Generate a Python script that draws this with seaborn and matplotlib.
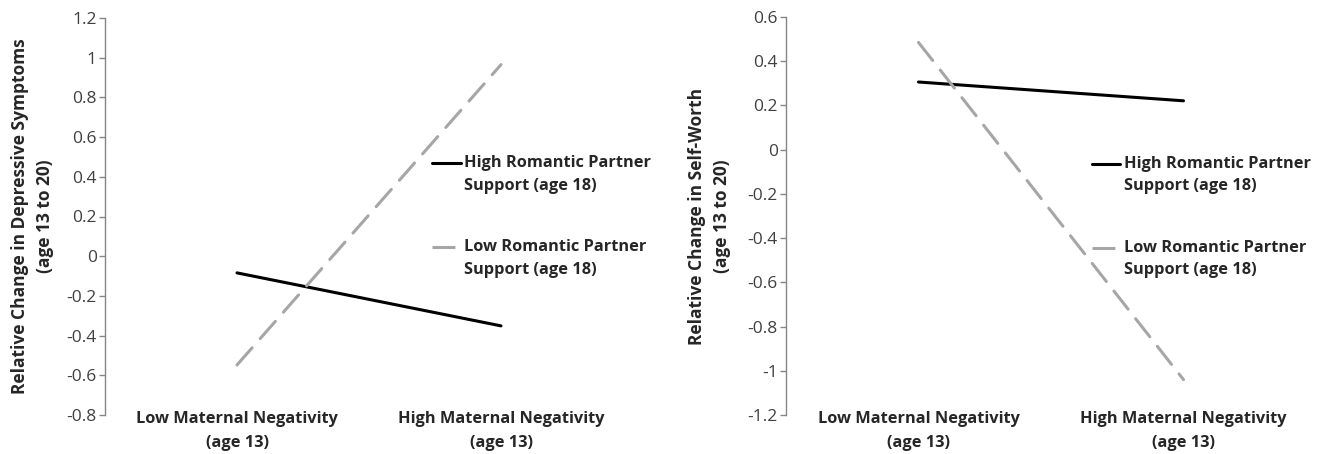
import numpy as np
import pandas as pd
import matplotlib
matplotlib.use("Agg")
import matplotlib.pyplot as plt
import seaborn as sns

# ---------------- data ----------------
categories = ["Low Maternal Negativity\n(age 13)", "High Maternal Negativity\n(age 13)"]
series = ["High Romantic Partner Support (age 18)", "Low Romantic Partner Support (age 18)"]
legend_labels = ["\nHigh Romantic Partner\nSupport (age 18)", "\nLow Romantic Partner\nSupport (age 18)"]

dep_high = [-0.084, -0.351]
dep_low = [-0.548, 0.965]
sw_high = [0.306, 0.221]
sw_low = [0.485, -1.04]

dep_ticks = [-0.8, -0.6, -0.4, -0.2, 0.0, 0.2, 0.4, 0.6, 0.8, 1.0, 1.2]
dep_ticklabels = ["-0.8", "-0.6", "-0.4", "-0.2", "0", "0.2", "0.4", "0.6", "0.8", "1", "1.2"]
sw_ticks = [-1.2, -1.0, -0.8, -0.6, -0.4, -0.2, 0.0, 0.2, 0.4, 0.6]
sw_ticklabels = ["-1.2", "-1", "-0.8", "-0.6", "-0.4", "-0.2", "0", "0.2", "0.4", "0.6"]

dep_ylabel = "Relative Change in Depressive Symptoms\n(age 13 to 20)"
sw_ylabel = "Relative Change in Self-Worth\n(age 13 to 20)"

# ---------------- style ----------------
sns.set_style("white")
FAM = ["Open Sans", "DejaVu Sans"]
plt.rcParams["font.family"] = FAM
plt.rcParams["axes.unicode_minus"] = False

W, H = 1320, 454
fig = plt.figure(figsize=(W / 100, H / 100), dpi=100)

colors = {series[0]: "#000000", series[1]: "#A6A6A6"}
dashes = {series[0]: "", series[1]: (7.5, 4.0)}
LW = 2.2
TXT = "#262626"
AX = "#868686"
FS = 11.8


def make_df(high, low):
    rows = []
    for i, _ in enumerate(categories):
        rows.append({"x": i, "value": high[i], "support": series[0]})
        rows.append({"x": i, "value": low[i], "support": series[1]})
    return pd.DataFrame(rows)


def panel(rect, high, low, ticks, ticklabels, ylabel, ylab_x, leg_anchor):
    ax = fig.add_axes(rect)
    df = make_df(high, low)
    sns.lineplot(data=df, x="x", y="value", hue="support", style="support",
                 palette=colors, dashes=dashes, linewidth=LW, ax=ax,
                 legend=False, solid_capstyle="round", dash_capstyle="round")
    ax.set_xlim(-0.5, 1.5)
    ax.set_ylim(ticks[0], ticks[-1])
    ax.set_yticks(ticks)
    ax.set_yticklabels(ticklabels, fontsize=12.5, color="#404040")
    ax.set_xticks(range(len(categories)))
    ax.set_xticklabels(categories, fontsize=FS, fontweight="bold", color=TXT,
                       linespacing=1.7)
    ax.tick_params(axis="x", length=0, pad=-3)
    ax.tick_params(axis="y", direction="out", length=4, width=1, color=AX,
                   pad=2, left=True)
    for s in ["top", "right", "bottom"]:
        ax.spines[s].set_visible(False)
    ax.spines["left"].set_color(AX)
    ax.spines["left"].set_linewidth(1)
    ax.set_xlabel("")
    ax.set_ylabel(ylabel, fontsize=12.5, fontweight="bold", color=TXT,
                  linespacing=1.5)
    ax.yaxis.set_label_coords(ylab_x, 0.5)

    handles = [plt.Line2D([], [], color=colors[s], linewidth=LW,
                          linestyle="-" if dashes[s] == "" else (0, dashes[s]))
               for s in series]
    leg = ax.legend(handles, legend_labels, loc="center left",
                    bbox_to_anchor=leg_anchor, frameon=False,
                    prop={"family": FAM, "weight": "bold", "size": FS},
                    handlelength=1.75, handletextpad=0.2, borderpad=0,
                    borderaxespad=0, labelspacing=1.4)
    for t in leg.get_texts():
        t.set_color(TXT)
        t.set_linespacing(1.55)
    return ax


panel([105 / W, 1 - 415 / H, 528 / W, 397 / H], dep_high, dep_low,
      dep_ticks, dep_ticklabels, dep_ylabel, -0.097, (0.619, 0.529))
panel([786 / W, 1 - 415 / H, 530 / W, 398 / H], sw_high, sw_low,
      sw_ticks, sw_ticklabels, sw_ylabel, -0.104, (0.577, 0.526))

fig.savefig("out.png", dpi=100, facecolor="white")
